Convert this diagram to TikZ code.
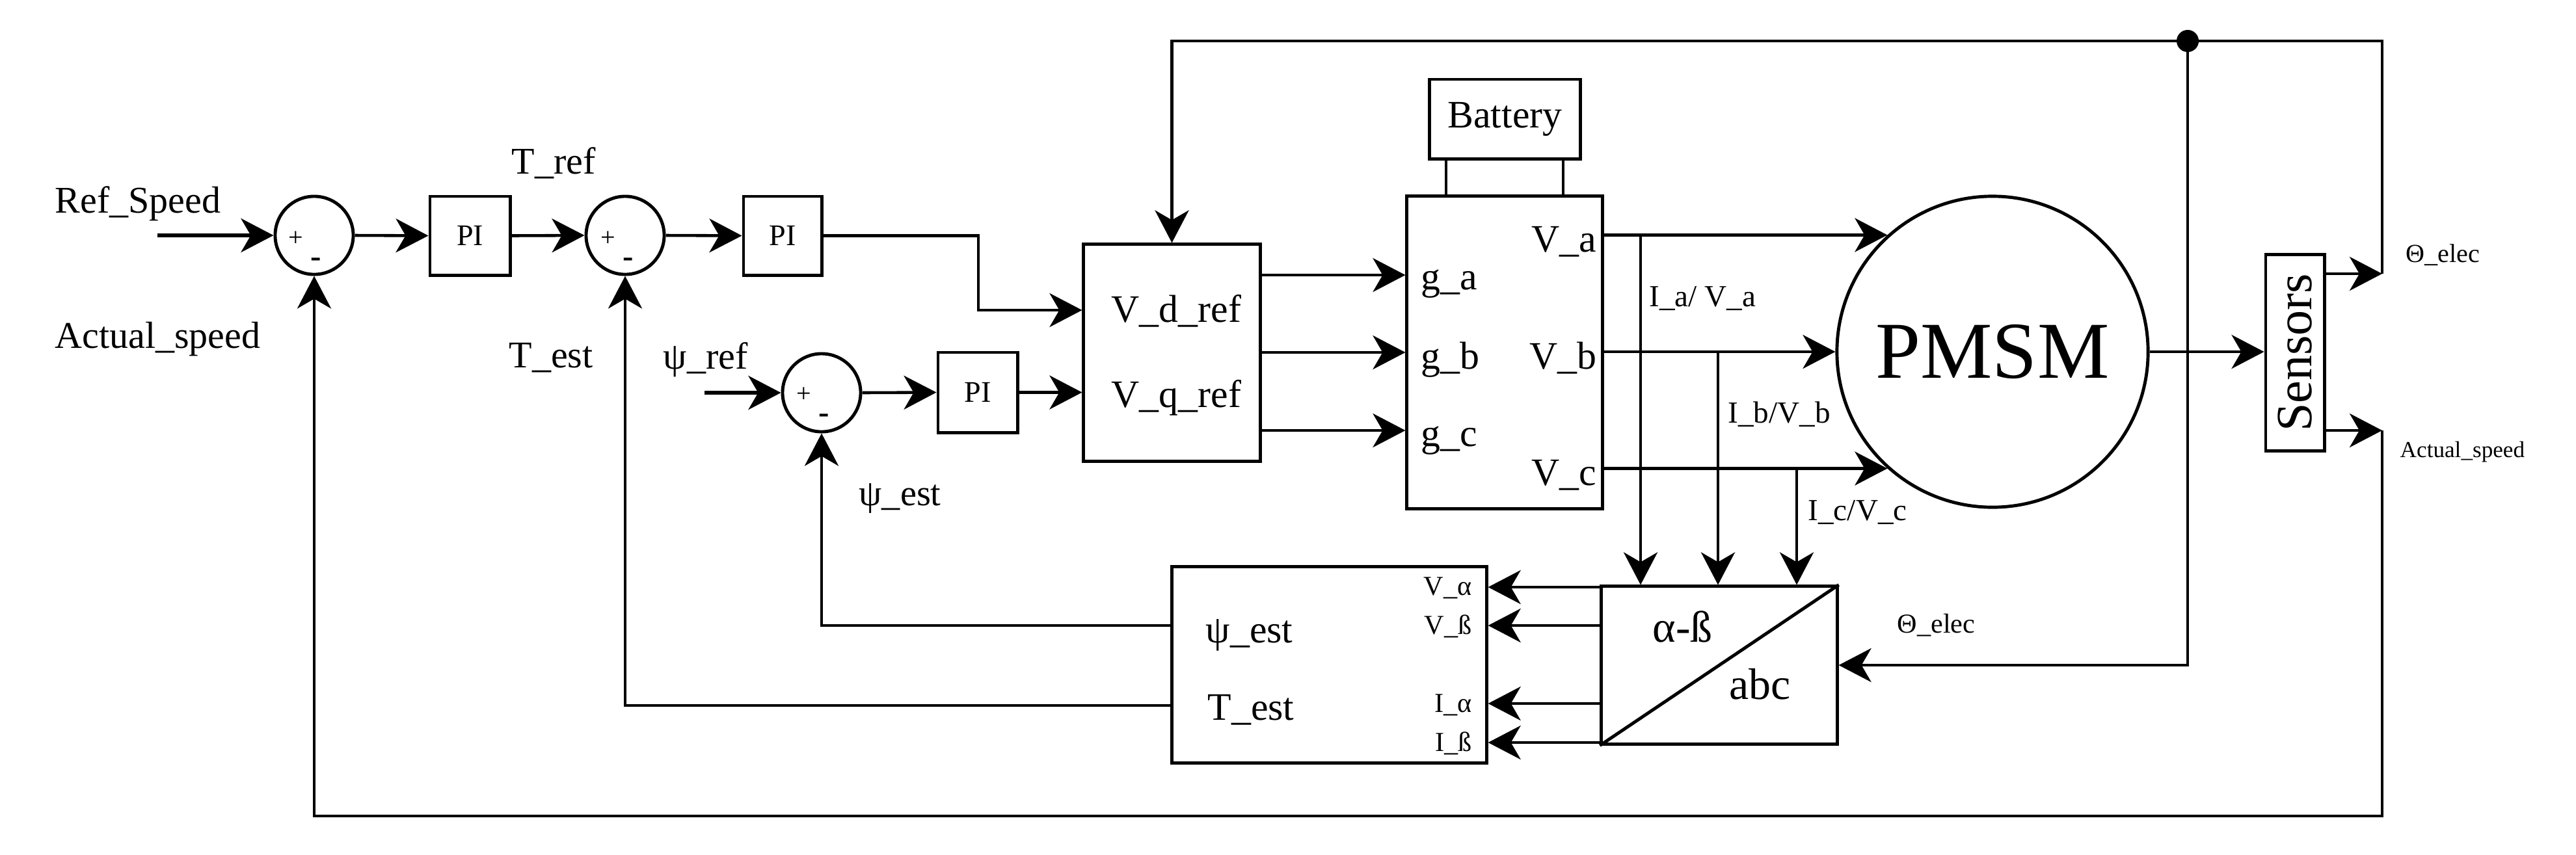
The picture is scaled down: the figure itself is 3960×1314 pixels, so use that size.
\documentclass[tikz,border=0pt]{standalone}
\usepackage{fontspec}
\setmainfont{Liberation Serif}
\usetikzlibrary{arrows.meta,calc}
\newcommand{\fsz}[1]{\fontsize{#1}{#1}\selectfont}
\begin{document}
\begin{tikzpicture}[x=0.01cm,y=-0.01cm,
  blk/.style={draw,line width=1.4pt,inner sep=0pt},
  sumc/.style={draw,circle,line width=1.4pt,minimum size=1.2cm,inner sep=0pt},
  conn/.style={line width=1.3pt},
  arr/.style={conn,-{Stealth[length=0.5cm,width=0.52cm,inset=0.15cm]}},
  lbl/.style={inner sep=0pt,anchor=base west},
  lble/.style={inner sep=0pt,anchor=base east},
  pm/.style={inner sep=0pt,font=\fsz{11.4pt}},
  mn/.style={inner sep=0pt,font=\bfseries\fsz{14pt}}]
\useasboundingbox (0,0) rectangle (3960,1314);

% --- blocks ---
\node[sumc] (sum1) at (483,362) {};
\node[sumc] (sum2) at (961,362) {};
\node[sumc] (sum3) at (1263,604) {};
\node[blk,minimum width=1.23cm,minimum height=1.21cm,font=\fsz{13.1pt}] (pi1) at (722.5,362.5) {PI};
\node[blk,minimum width=1.20cm,minimum height=1.21cm,font=\fsz{13.1pt}] (pi2) at (1203,362.5) {PI};
\node[blk,minimum width=1.22cm,minimum height=1.23cm,font=\fsz{13.1pt}] (pi3) at (1503,603.5) {PI};
\node[blk,minimum width=2.71cm,minimum height=3.33cm] (vref) at (1801.5,542.5) {};
\node[blk,minimum width=2.31cm,minimum height=1.22cm,font=\fsz{17pt}] (bat) at (2313.5,183) {Battery};
\node[blk,minimum width=3.00cm,minimum height=4.80cm] (inv) at (2313,542) {};
\node[draw,circle,line width=1.4pt,minimum size=4.78cm,inner sep=0pt,font=\fsz{35.3pt}] (pmsm) at (3063,541) {PMSM};
\node[blk,minimum width=3.01cm,minimum height=0.90cm,rotate=90,font=\fsz{22.2pt}] (sens) at (3528,542.5) {Sensors};
\node[blk,minimum width=3.62cm,minimum height=2.42cm] (ab) at (2643,1023) {};
\node[blk,minimum width=4.83cm,minimum height=3.01cm] (est) at (2043.5,1022.5) {};
\draw[line width=1.4pt] (ab.south west) -- (ab.north east);

% --- signs in summing junctions ---
\node[pm] (s1p) at (455,367) {+};
\node[mn] (s1m) at (486,404) {-};
\node[pm] (s2p) at (935,367) {+};
\node[mn] (s2m) at (966,404) {-};
\node[pm] (s3p) at (1236,607) {+};
\node[mn] (s3m) at (1267,644) {-};

% --- labels ---
\node[lbl,font=\fsz{16.5pt}] (lrs) at (84,327) {Ref\_Speed};
\node[lbl,font=\fsz{16.5pt}] (las) at (84,535) {Actual\_speed};
\node[lbl,font=\fsz{16.5pt}] (ltr) at (786,267) {T\_ref};
\node[lbl,font=\fsz{16.5pt}] (lte) at (782,565) {T\_est};
\node[lbl,font=\fsz{16.5pt}] (lpr) at (1019,567) {ψ\_ref};
\node[lbl,font=\fsz{16pt}] (lpe) at (1320,777) {ψ\_est};
\node[lbl,font=\fsz{17pt}] (lvd) at (1708,495) {V\_d\_ref};
\node[lbl,font=\fsz{17pt}] (lvq) at (1708,626) {V\_q\_ref};
\node[lbl,font=\fsz{17pt}] (lga) at (2184,445) {g\_a};
\node[lbl,font=\fsz{17pt}] (lgb) at (2184,567) {g\_b};
\node[lbl,font=\fsz{17pt}] (lgc) at (2184,686) {g\_c};
\node[lble,font=\fsz{17pt}] (lva) at (2455,387) {V\_a};
\node[lble,font=\fsz{17pt}] (lvb) at (2455,567) {V\_b};
\node[lble,font=\fsz{17pt}] (lvc) at (2455,746) {V\_c};
\node[lbl,font=\fsz{13.4pt}] (lia) at (2535,471) {I\_a/ V\_a};
\node[lbl,font=\fsz{13.4pt}] (lib) at (2656,650) {I\_b/V\_b};
\node[lbl,font=\fsz{13.4pt}] (lic) at (2779,800) {I\_c/V\_c};
\node[lble,font=\fsz{12pt}] (lval) at (2263,915) {V\_α};
\node[lble,font=\fsz{12pt}] (lvbe) at (2263,975) {V\_ß};
\node[lble,font=\fsz{12pt}] (lial) at (2263,1095) {I\_α};
\node[lble,font=\fsz{12pt}] (libe) at (2263,1155) {I\_ß};
\node[lbl,font=\fsz{17pt}] (lpsi) at (1853,988) {ψ\_est};
\node[lbl,font=\fsz{17pt}] (ltq) at (1856,1107) {T\_est};
\node[lbl,font=\fsz{19.3pt}] (lab) at (2540,987) {α-ß};
\node[lbl,font=\fsz{19.3pt}] (labc) at (2658,1075) {abc};
\node[lbl,font=\fsz{12pt}] (lth2) at (2916,973) {Θ\_elec};
\node[lbl,font=\fsz{11.4pt}] (lth1) at (3698,403) {Θ\_elec};
\node[lbl,font=\fsz{10pt}] (las2) at (3689,703) {Actual\_speed};

% --- coordinates ---
\coordinate (rin) at (242,362);
\coordinate (pin) at (1083,604);
\coordinate (tr) at (3662,421);
\coordinate (ar) at (3662,662);
\coordinate (tc) at (3662,63);
\coordinate (bc) at (3662,1255);
\coordinate (dot) at (3363,63);
\coordinate (ta) at (2522,0);
\coordinate (tb) at (2641,0);
\coordinate (tcc) at (2762,0);

% --- forward path ---
\draw[arr,line width=1.6pt] (rin) -- (sum1.west);
\draw[arr] (sum1.east) -- (pi1.west);
\draw[arr] (pi1.east) -- (sum2.west);
\draw[arr] (sum2.east) -- (pi2.west);
\draw[arr] (pi2.east) -- (1504,362.5) |- (vref.west |- 0,477);
\draw[arr,line width=1.6pt] (pin) -- (sum3.west);
\draw[arr] (sum3.east) -- (pi3.west);
\draw[arr] (pi3.east) -- (vref.west |- pi3.east);
\draw[arr] (vref.east |- 0,423) -- (inv.west |- 0,423);
\draw[arr] (vref.east |- 0,542) -- (inv.west |- 0,542);
\draw[arr] (vref.east |- 0,662) -- (inv.west |- 0,662);
\draw[conn] (2223,0 |- bat.south) -- (2223,0 |- inv.north);
\draw[conn] (2403,0 |- bat.south) -- (2403,0 |- inv.north);
\draw[arr] (inv.east |- pmsm.132) -- (pmsm.132);
\draw[arr] (inv.east |- pmsm.west) -- (pmsm.west);
\draw[arr] (inv.east |- pmsm.228.8) -- (pmsm.228.8);
\draw[arr] (ta |- pmsm.132) -- (ta |- ab.north);
\draw[arr] (tb |- pmsm.west) -- (tb |- ab.north);
\draw[arr] (tcc |- pmsm.228.8) -- (tcc |- ab.north);
\draw[arr] (ab.west |- 0,903) -- (est.east |- 0,903);
\draw[arr] (ab.west |- 0,962) -- (est.east |- 0,962);
\draw[arr] (ab.west |- 0,1082) -- (est.east |- 0,1082);
\draw[arr] (ab.west |- 0,1142) -- (est.east |- 0,1142);
\draw[arr] (est.west |- 0,962) -| (sum3.south);
\draw[arr] (est.west |- 0,1085) -| (sum2.south);
\draw[arr] (pmsm.east) -- (sens.north |- pmsm.east);
\draw[arr] (sens.south |- tr) -- (tr);
\draw[arr] (sens.south |- ar) -- (ar);
% --- feedback paths ---
\draw[arr] (tr) -- (tc) -| (vref.north);
\fill (dot) circle (0.17cm);
\draw[arr] (dot) |- (ab.east);
\draw[arr] (ar) -- (bc) -| (sum1.south);
\end{tikzpicture}
\end{document}
